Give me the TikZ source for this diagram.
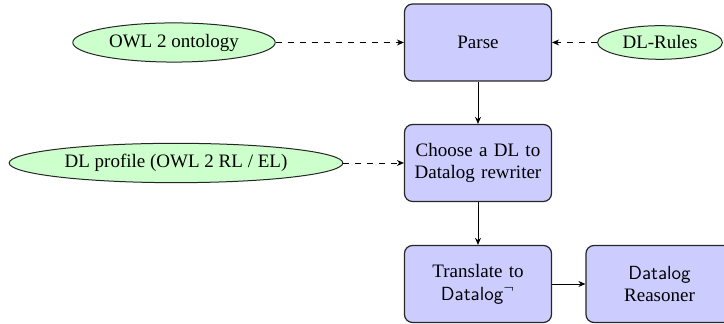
\documentclass[tikz,border=0pt]{standalone}
\usepackage{fontspec}
\setmainfont{Liberation Serif}
\usepackage{tikz}
\usetikzlibrary{positioning,shapes.geometric,arrows.meta}
\definecolor{dlBlue}{RGB}{204,204,255}
\definecolor{dlGreen}{RGB}{204,255,204}
\tikzset{
    base/.style={font=\fontsize{9.5}{11.4}\selectfont},
    stage/.style={base, rectangle, rounded corners=4pt, draw=black!85, line width=0.6pt,
                  fill=dlBlue, align=center, text width=66pt,
                  minimum width=73.5pt, minimum height=38.5pt},
    input/.style={base, ellipse, draw=black!85, line width=0.5pt, fill=dlGreen,
                  inner xsep=3.33pt, inner ysep=2.6pt},
    feed/.style={-{Stealth[length=3.5pt, width=3pt]}, dashed},
    pass/.style={-{Stealth[length=3.5pt, width=3pt]}}
}

\begin{document}
\begin{tikzpicture}[x=0.5pt, y=-0.5pt]
  \useasboundingbox (0,0) rectangle (724,324);

  % Pipeline stages
  \node[stage] (parse) at (478,42.5) {Parse};
  \node[stage] (choose) at (478,163) {Choose a DL to\\Datalog rewriter};
  \node[stage] (translate) at (478,284) {Translate to\\{\sffamily Datalog}$^\neg$};
  \node[stage] (reasoner) at (659.5,284) {{\sffamily Datalog}\\{\rmfamily Reasoner}};

  % Inputs
  \node[input] (owl) at (174,42.5) {OWL 2 ontology};
  \node[input] (rules) at (660,42.5) {DL-Rules};
  \node[input] (profile) at (176,163) {DL profile (OWL 2 RL / EL)};

  % Arrows
  \draw[feed] (owl) -- (parse);
  \draw[feed] (rules) -- (parse);
  \draw[feed] (profile) -- (choose);
  \draw[pass] (parse) -- (choose);
  \draw[pass] (choose) -- (translate);
  \draw[pass] (translate) -- (reasoner);
\end{tikzpicture}
\end{document}
